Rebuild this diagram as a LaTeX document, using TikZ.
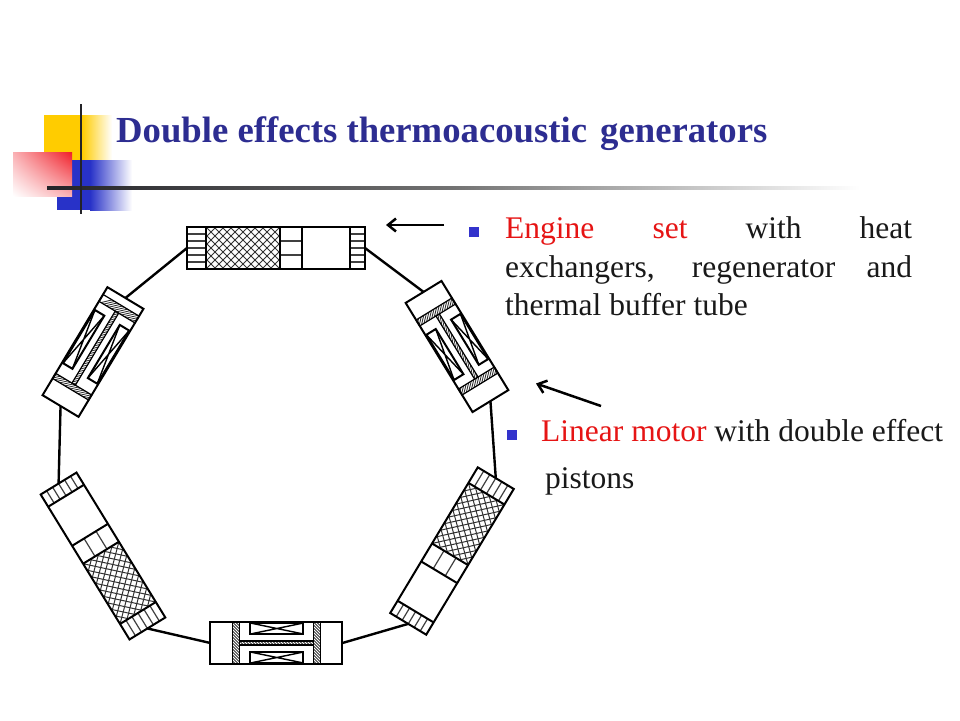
\documentclass[tikz,border=0pt]{standalone}
\usepackage{fontspec}
\setmainfont{Liberation Serif}
\usetikzlibrary{arrows.meta,shadings}
\definecolor{titleblue}{RGB}{45,45,145}
\definecolor{bulletblue}{RGB}{51,51,204}
\definecolor{logoyellow}{RGB}{255,204,0}
\definecolor{logoblue}{RGB}{40,50,200}
\definecolor{logored}{RGB}{240,30,40}
\definecolor{logoline}{RGB}{35,35,40}
\definecolor{txtred}{RGB}{230,20,20}
\definecolor{txtblack}{RGB}{25,25,25}
\tikzset{
  wall/.style={draw=black,line width=2pt,line join=miter},
  thin wall/.style={draw=black!75,line width=1.2pt},
  hatch/.style={draw=black!80,line width=1pt},
  ring/.style={draw=black,line width=2.4pt},
  pointer/.style={draw=black,line width=2.5pt,-{Straight Barb[length=8pt,width=13pt,line width=2.5pt]}},
  bodytext/.style={font=\fontsize{31.5}{39}\selectfont,text=txtblack,inner sep=0pt,anchor=base west},
  bullet/.style={fill=bulletblue,draw=none,minimum size=10pt,inner sep=0pt},
}
% engine: #1 name, #2 cx, #3 cy, #4 angle, #5 length scale
\newcommand{\engineunit}[5]{%
\begin{scope}[shift={(#2,#3)},rotate=#4,xscale=#5]
  \coordinate (#1a) at (-89,0);
  \coordinate (#1b) at (89,0);
  \begin{scope}
    \clip (-70,-21) rectangle (4,21);
    \foreach \k in {-8,...,8}{
      \draw[hatch] (-33+\k*8-21,-21) -- (-33+\k*8+21,21)
                   (-33+\k*8+21,-21) -- (-33+\k*8-21,21);
    }
  \end{scope}
  \foreach \yy in {-14,-7,0,7,14}{
    \draw[thin wall] (-89,\yy) -- (-70,\yy);
    \draw[thin wall] (74,\yy) -- (89,\yy);
  }
  \foreach \yy in {-7,7}{\draw[thin wall] (4,\yy) -- (26,\yy);}
  \draw[wall] (-89,-21) rectangle (89,21);
  \foreach \xx in {-70,4,26,74}{\draw[wall] (\xx,-21) -- (\xx,21);}
\end{scope}}
\newcommand{\motorhatch}[4]{%
  \begin{scope}
    \clip (#1,#2) rectangle (#3,#4);
    \foreach \k in {-90,-87,...,60}{
      \draw[draw=black!80,line width=.9pt] (\k,-25) -- (\k+50,25);
    }
  \end{scope}
  \draw[draw=black,line width=1.2pt] (#1,#2) rectangle (#3,#4);}
\newcommand{\coilbox}[4]{%
  \draw[draw=black,line width=2pt] (#1,#2) rectangle (#3,#4);
  \draw[draw=black,line width=1.4pt] (#1,#2) -- (#3,#4) (#1,#4) -- (#3,#2);}
% motor: #1 name, #2 cx, #3 cy, #4 angle, #5 half length, #6 #7 first plate, #8 #9 second plate
\newcommand{\motorunit}[9]{%
\begin{scope}[shift={(#2,#3)},rotate=#4]
  \coordinate (#1a) at (-#5,0);
  \coordinate (#1b) at (#5,0);
  \motorhatch{#6}{-21}{#7}{21}
  \motorhatch{#8}{-21}{#9}{21}
  \motorhatch{#7}{-2}{#8}{2}
  \draw[wall] (-#5,-21) rectangle (#5,21);
  \coilbox{\coilA}{-20}{\coilB}{-9}
  \coilbox{\coilA}{9}{\coilB}{20}
\end{scope}}
\begin{document}
\begin{tikzpicture}[x=1pt,y=-1pt]
\useasboundingbox (0,0) rectangle (960,720);
\fill[white] (0,0) rectangle (960,720);
% logo
\fill[logoyellow] (44,115) rectangle (82,160);
\shade[left color=logoyellow,right color=white] (82,115) rectangle (112,160);
\fill[logoblue] (57,160) rectangle (90,210);
\shade[left color=logoblue,right color=white] (90,160) rectangle (132,210);
\shade[upper right=logored,upper left=logored!35!white,lower left=white,lower right=logored!35!white] (13,152) rectangle (72,196);
\shade[left color=logoline,right color=white,middle color=black!55] (47,186.5) rectangle (860,189.5);
\fill[logoline] (79.7,104) rectangle (82.3,214);
% title
\node[font=\bfseries\fontsize{36.7}{40}\selectfont,text=titleblue,inner sep=0pt,anchor=base west] (title) at (116,142) {Double effects thermoacoustic\hspace{4pt} generators};
% units
\def\coilA{-26}\def\coilB{27}
\engineunit{e1}{276}{248}{0}{1}
\motorunit{m1}{457}{346.5}{-58.5}{64}{-44}{-37}{37}{44}
\engineunit{e2}{452}{551}{239}{.955}
\motorunit{m2}{276.4}{643}{0}{66}{-44}{-37}{37}{44}
\engineunit{e3}{103}{556}{121.5}{.955}
\def\coilA{-37}\def\coilB{25}
\motorunit{m3}{93}{352}{-121}{63}{-54.5}{-46.5}{37.5}{43.5}
% ring connectors
\draw[ring] (e1b) -- (m1a);
\draw[ring] (m1b) -- (e2a);
\draw[ring] (e2b) -- (m2b);
\draw[ring] (m2a) -- (e3a);
\draw[ring] (e3b) -- (m3b);
\draw[ring] (m3a) -- (e1a);
% texts
\node[bullet] (b1) at (474,231.5) {};
\node[bodytext] (t1a) at (505,238) {\makebox[407pt][s]{\textcolor{txtred}{Engine set} with heat}};
\node[bodytext] (t1b) at (505,277) {\makebox[407pt][s]{exchangers, regenerator and}};
\node[bodytext] (t1c) at (505,315) {thermal buffer tube};
\node[bullet] (b2) at (512,434.5) {};
\node[bodytext] (t2) at (541,441) {\textcolor{txtred}{Linear motor} with double effect};
\node[bodytext] (t3) at (545,488) {pistons};
% arrows
\coordinate (p1s) at (444,225);
\coordinate (p1e) at (386,225);
\coordinate (p2s) at (601,406);
\coordinate (p2e) at (536,383.5);
\draw[pointer] (p1s) -- (p1e);
\draw[pointer] (p2s) -- (p2e);
\end{tikzpicture}
\end{document}
